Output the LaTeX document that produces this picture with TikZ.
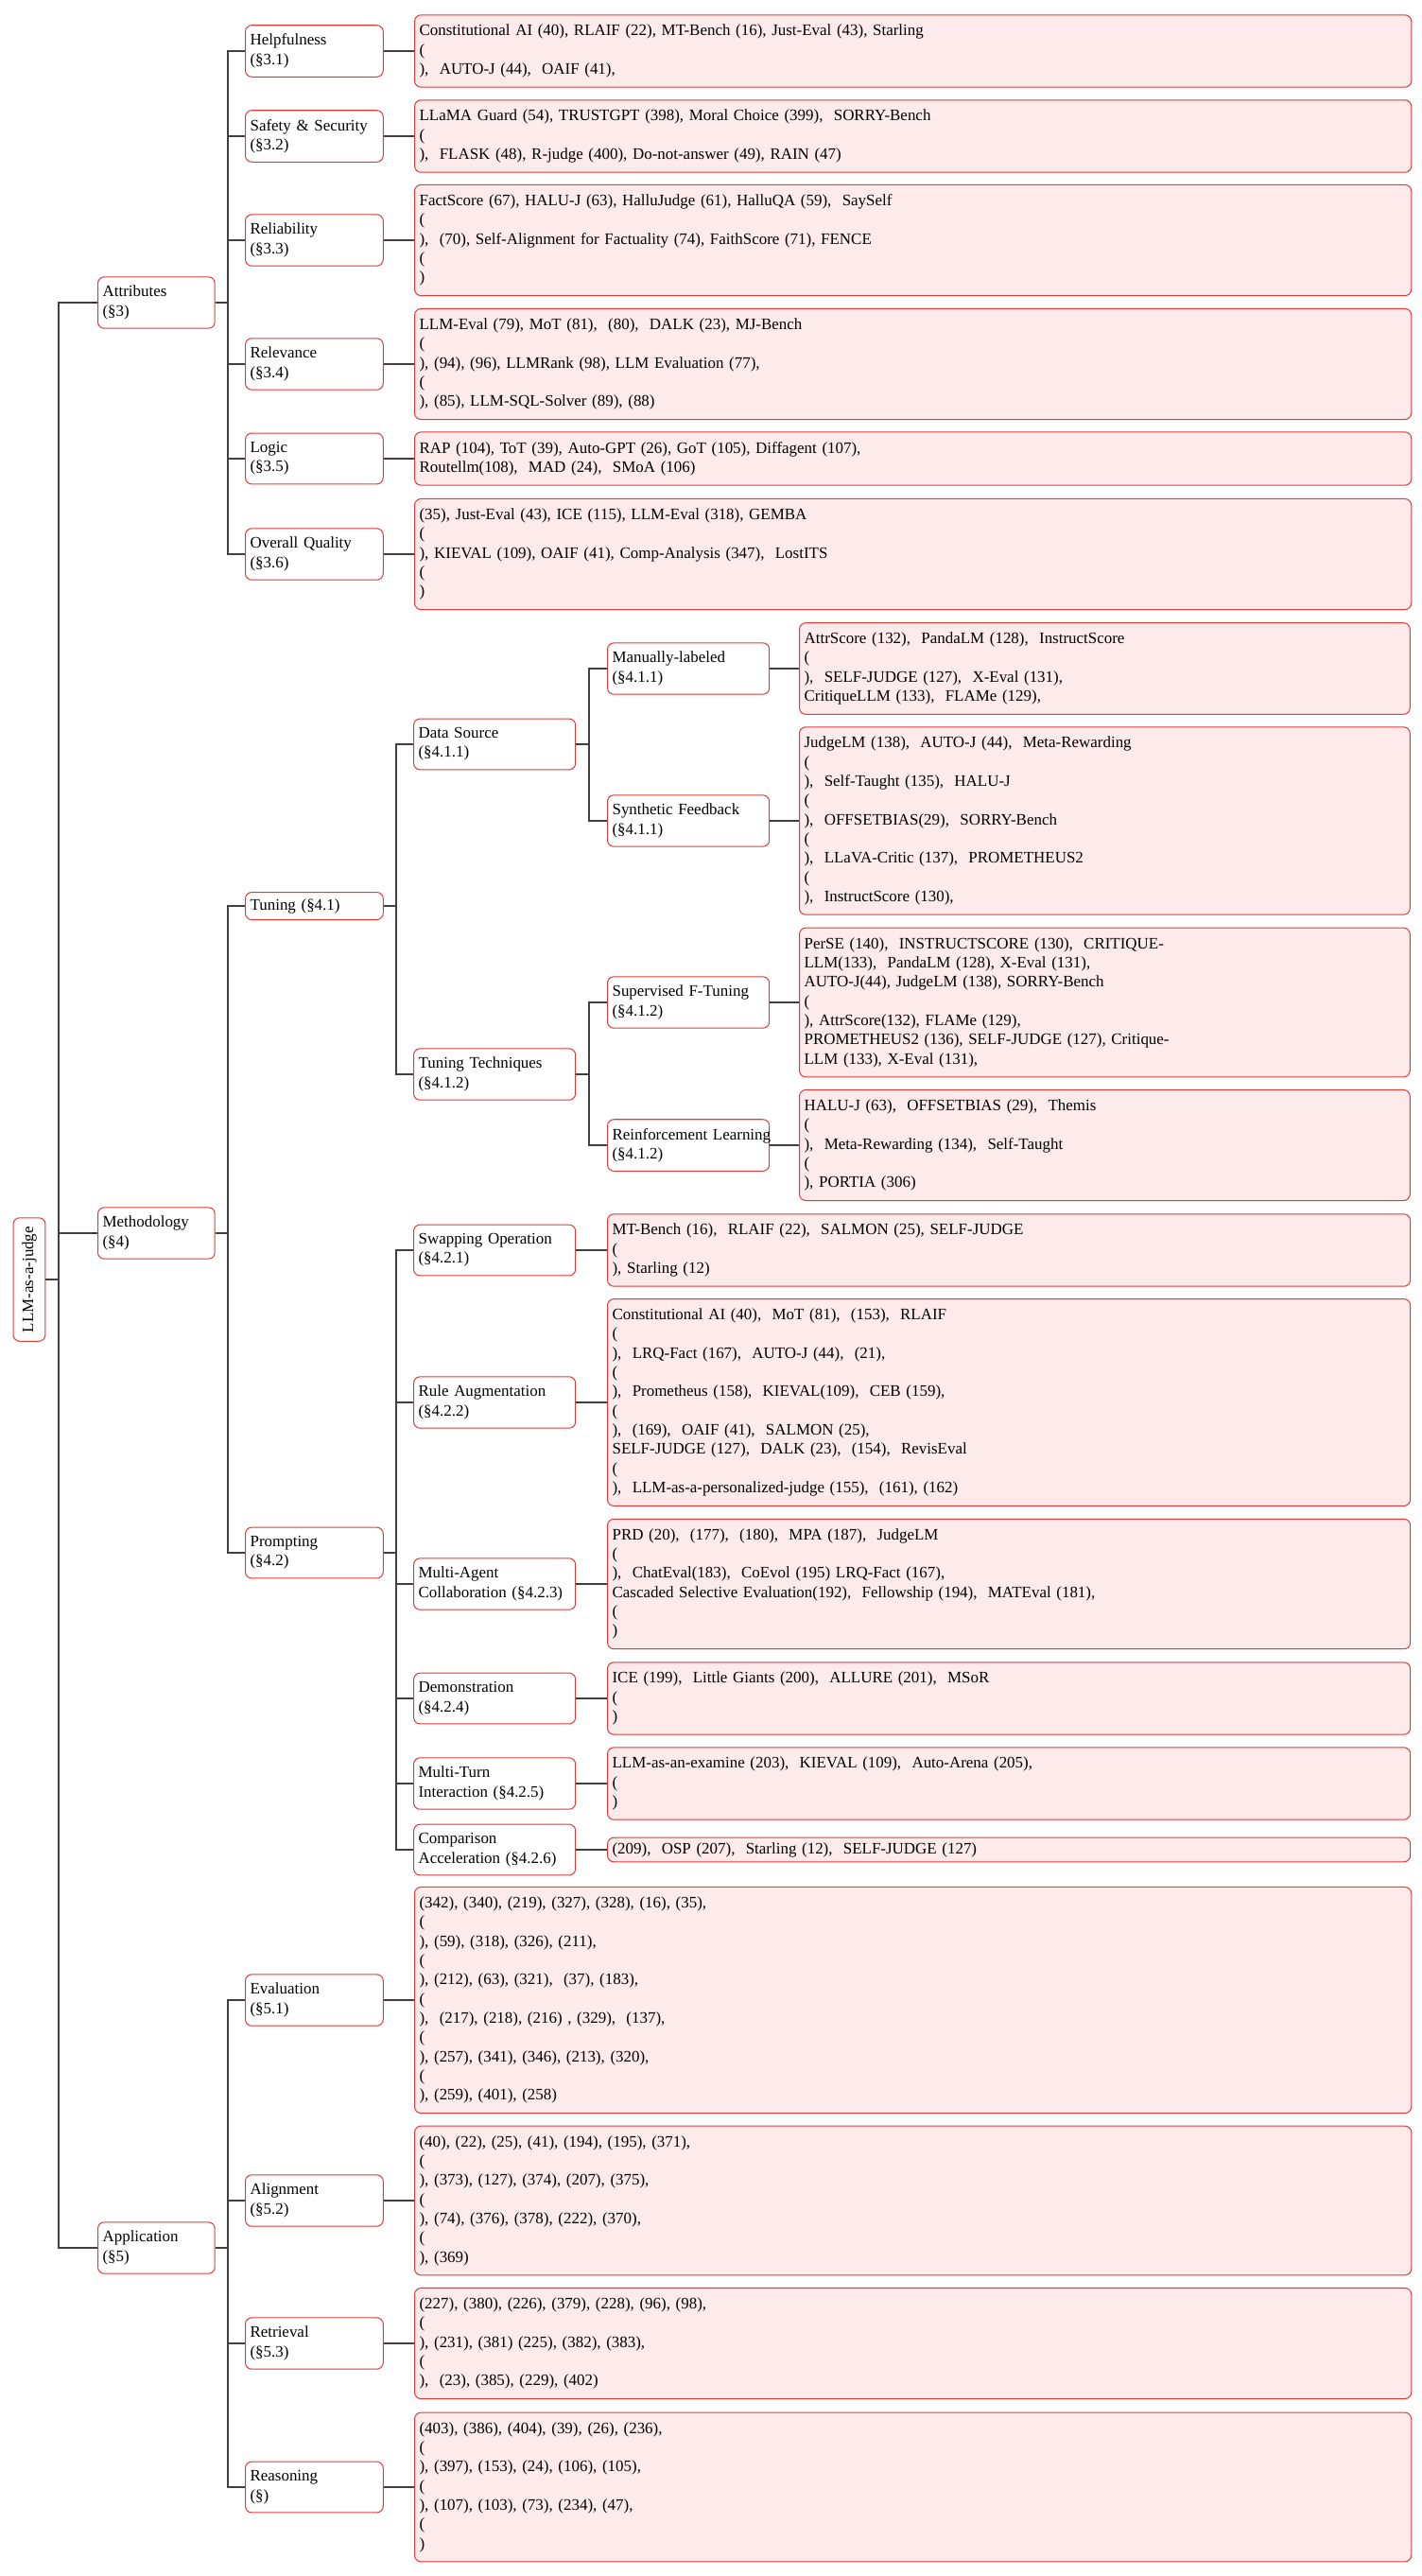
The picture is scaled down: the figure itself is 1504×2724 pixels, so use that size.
\documentclass[tikz,border=0pt]{standalone}
\usepackage{fontspec}
\setmainfont{Liberation Serif}
\usepackage{tikz}
\definecolor{boxred}{HTML}{E03A3A}
\definecolor{leaffill}{HTML}{FDEAEB}
\definecolor{edgegray}{HTML}{404040}
\tikzset{
  box/.style={draw=boxred,rounded corners=4pt,line width=0.6pt,fill=white,align=left,inner xsep=3pt,inner ysep=5.5pt,anchor=west,font=\fontsize{10}{12}\selectfont},
  catbox/.style={box,text width=67pt},
  subbox/.style={box,text width=80pt},
  deepbox/.style={box,text width=95pt},
  leafbox/.style={box,fill=leaffill,inner ysep=6pt},
  rootbox/.style={draw=boxred,rounded corners=4pt,line width=0.6pt,rotate=90,minimum width=77pt,minimum height=20pt,inner sep=2pt,font=\fontsize{10}{12}\selectfont},
  edge/.style={draw=edgegray,line width=1pt,to path={-- ++(8pt,0) |- (\tikztotarget)}},
  leafedge/.style={draw=edgegray,line width=1.5pt}
}
\begin{document}
\begin{tikzpicture}[x=0.59pt,y=-0.59pt]
\useasboundingbox (0,0) rectangle (1504,2724);
% top levels
\node[rootbox] (root) at (31,1353) {LLM-as-a-judge};
\node[catbox] (attr) at (103,320) {Attributes\\(§3)};
\node[catbox] (meth) at (103,1304) {Methodology\\(§4)};
\node[catbox] (appl) at (103,2377) {Application\\(§5)};
% attributes
\node[subbox] (help) at (259,54) {Helpfulness\\(§3.1)};
\node[subbox] (safe) at (259,144) {Safety \& Security\\(§3.2)};
\node[subbox] (reli) at (259,254) {Reliability\\(§3.3)};
\node[subbox] (rele) at (259,385) {Relevance\\(§3.4)};
\node[subbox] (logic) at (259,485) {Logic\\(§3.5)};
\node[subbox] (overall) at (259,586) {Overall Quality\\(§3.6)};
\node[leafbox,text width=616pt] (helpleaf) at (438,54) {Constitutional AI (40), RLAIF (22), MT-Bench (16), Just-Eval (43), Starling\\(\\),\ \ AUTO-J (44),\ \ OAIF (41),};
\node[leafbox,text width=616pt] (safeleaf) at (438,144) {LLaMA Guard (54), TRUSTGPT (398), Moral Choice (399),\ \ SORRY-Bench\\(\\),\ \ FLASK (48), R-judge (400), Do-not-answer (49), RAIN (47)};
\node[leafbox,text width=616pt] (relileaf) at (438,254) {FactScore (67), HALU-J (63), HalluJudge (61), HalluQA (59),\ \ SaySelf\\(\\),\ \ (70), Self-Alignment for Factuality (74), FaithScore (71), FENCE\\(\\)};
\node[leafbox,text width=616pt] (releleaf) at (438,385) {LLM-Eval (79), MoT (81),\ \ (80),\ \ DALK (23), MJ-Bench\\(\\), (94), (96), LLMRank (98), LLM Evaluation (77),\\(\\), (85), LLM-SQL-Solver (89), (88)};
\node[leafbox,text width=616pt] (logicleaf) at (438,485) {RAP (104), ToT (39), Auto-GPT (26), GoT (105), Diffagent (107),\\Routellm(108),\ \ MAD (24),\ \ SMoA (106)};
\node[leafbox,text width=616pt] (overallleaf) at (438,586) {(35), Just-Eval (43), ICE (115), LLM-Eval (318), GEMBA\\(\\), KIEVAL (109), OAIF (41), Comp-Analysis (347),\ \ LostITS\\(\\)};
% methodology
\node[subbox,inner ysep=4pt] (tun) at (259,958) {Tuning (§4.1)};
\node[subbox] (prompt) at (259,1642) {Prompting\\(§4.2)};
\node[deepbox] (dsrc) at (437,787) {Data Source\\(§4.1.1)};
\node[deepbox] (ttech) at (437,1136) {Tuning Techniques\\(§4.1.2)};
\node[deepbox] (manual) at (642,707) {Manually-labeled\\(§4.1.1)};
\node[deepbox] (synth) at (642,868) {Synthetic Feedback\\(§4.1.1)};
\node[deepbox] (sft) at (642,1060) {Supervised F-Tuning\\(§4.1.2)};
\node[deepbox] (rl) at (642,1211) {\mbox{Reinforcement Learning}\\(§4.1.2)};
\node[leafbox,text width=375pt] (manualleaf) at (845,707) {AttrScore (132),\ \ PandaLM (128),\ \ InstructScore\\(\\),\ \ SELF-JUDGE (127),\ \ X-Eval (131),\\CritiqueLLM (133),\ \ FLAMe (129),};
\node[leafbox,text width=375pt] (synthleaf) at (845,868) {JudgeLM (138),\ \ AUTO-J (44),\ \ Meta-Rewarding\\(\\),\ \ Self-Taught (135),\ \ HALU-J\\(\\),\ \ OFFSETBIAS(29),\ \ SORRY-Bench\\(\\),\ \ LLaVA-Critic (137),\ \ PROMETHEUS2\\(\\),\ \ InstructScore (130),};
\node[leafbox,text width=375pt] (sftleaf) at (845,1060) {PerSE (140),\ \ INSTRUCTSCORE (130),\ \ CRITIQUE-\\LLM(133),\ \ PandaLM (128), X-Eval (131),\\AUTO-J(44), JudgeLM (138), SORRY-Bench\\(\\), AttrScore(132), FLAMe (129),\\PROMETHEUS2 (136), SELF-JUDGE (127), Critique-\\LLM (133), X-Eval (131),};
\node[leafbox,text width=375pt] (rlleaf) at (845,1211) {HALU-J (63),\ \ OFFSETBIAS (29),\ \ Themis\\(\\),\ \ Meta-Rewarding (134),\ \ Self-Taught\\(\\), PORTIA (306)};
\node[deepbox] (swap) at (437,1322) {Swapping Operation\\(§4.2.1)};
\node[deepbox] (rule) at (437,1483) {Rule Augmentation\\(§4.2.2)};
\node[deepbox] (magent) at (437,1675) {Multi-Agent\\Collaboration (§4.2.3)};
\node[deepbox] (demo) at (437,1796) {Demonstration\\(§4.2.4)};
\node[deepbox] (mturn) at (437,1886) {Multi-Turn\\Interaction (§4.2.5)};
\node[deepbox] (compar) at (437,1956) {Comparison\\Acceleration (§4.2.6)};
\node[leafbox,text width=495pt] (swapleaf) at (642,1322) {MT-Bench (16),\ \ RLAIF (22),\ \ SALMON (25), SELF-JUDGE\\(\\), Starling (12)};
\node[leafbox,text width=495pt] (ruleleaf) at (642,1483) {Constitutional AI (40),\ \ MoT (81),\ \ (153),\ \ RLAIF\\(\\),\ \ LRQ-Fact (167),\ \ AUTO-J (44),\ \ (21),\\(\\),\ \ Prometheus (158),\ \ KIEVAL(109),\ \ CEB (159),\\(\\),\ \ (169),\ \ OAIF (41),\ \ SALMON (25),\\SELF-JUDGE (127),\ \ DALK (23),\ \ (154),\ \ RevisEval\\(\\),\ \ LLM-as-a-personalized-judge (155),\ \ (161), (162)};
\node[leafbox,text width=495pt] (magentleaf) at (642,1675) {PRD (20),\ \ (177),\ \ (180),\ \ MPA (187),\ \ JudgeLM\\(\\),\ \ ChatEval(183),\ \ CoEvol (195) LRQ-Fact (167),\\Cascaded Selective Evaluation(192),\ \ Fellowship (194),\ \ MATEval (181),\\(\\)};
\node[leafbox,text width=495pt] (demoleaf) at (642,1796) {ICE (199),\ \ Little Giants (200),\ \ ALLURE (201),\ \ MSoR\\(\\)};
\node[leafbox,text width=495pt] (mturnleaf) at (642,1886) {LLM-as-an-examine (203),\ \ KIEVAL (109),\ \ Auto-Arena (205),\\(\\)};
\node[leafbox,text width=495pt,inner ysep=3pt] (comparleaf) at (642,1956) {(209),\ \ OSP (207),\ \ Starling (12),\ \ SELF-JUDGE (127)};
% application
\node[subbox] (eval) at (259,2115) {Evaluation\\(§5.1)};
\node[subbox] (align) at (259,2327) {Alignment\\(§5.2)};
\node[subbox] (retr) at (259,2478) {Retrieval\\(§5.3)};
\node[subbox] (reas) at (259,2630) {Reasoning\\(§)};
\node[leafbox,text width=616pt] (evalleaf) at (438,2115) {(342), (340), (219), (327), (328), (16), (35),\\(\\), (59), (318), (326), (211),\\(\\), (212), (63), (321),\ \ (37), (183),\\(\\),\ \ (217), (218), (216) , (329),\ \ (137),\\(\\), (257), (341), (346), (213), (320),\\(\\), (259), (401), (258)};
\node[leafbox,text width=616pt] (alignleaf) at (438,2327) {(40), (22), (25), (41), (194), (195), (371),\\(\\), (373), (127), (374), (207), (375),\\(\\), (74), (376), (378), (222), (370),\\(\\), (369)};
\node[leafbox,text width=616pt] (retrleaf) at (438,2478) {(227), (380), (226), (379), (228), (96), (98),\\(\\), (231), (381) (225), (382), (383),\\(\\),\ \ (23), (385), (229), (402)};
\node[leafbox,text width=616pt] (reasleaf) at (438,2630) {(403), (386), (404), (39), (26), (236),\\(\\), (397), (153), (24), (106), (105),\\(\\), (107), (103), (73), (234), (47),\\(\\)};
% connectors
\foreach \c in {attr,meth,appl} \draw[edge] (root.south) to (\c.west);
\foreach \c in {help,safe,reli,rele,logic,overall} {
  \draw[edge] (attr.east) to (\c.west);
  \draw[leafedge] (\c.east) -- (\c leaf.west);
}
\foreach \c in {tun,prompt} \draw[edge] (meth.east) to (\c.west);
\foreach \c in {dsrc,ttech} \draw[edge] (tun.east) to (\c.west);
\foreach \c in {manual,synth} \draw[edge] (dsrc.east) to (\c.west);
\foreach \c in {sft,rl} \draw[edge] (ttech.east) to (\c.west);
\foreach \c in {manual,synth,sft,rl} \draw[leafedge] (\c.east) -- (\c leaf.west);
\foreach \c in {swap,rule,magent,demo,mturn,compar} {
  \draw[edge] (prompt.east) to (\c.west);
  \draw[leafedge] (\c.east) -- (\c leaf.west);
}
\foreach \c in {eval,align,retr,reas} {
  \draw[edge] (appl.east) to (\c.west);
  \draw[leafedge] (\c.east) -- (\c leaf.west);
}
\end{tikzpicture}
\end{document}
